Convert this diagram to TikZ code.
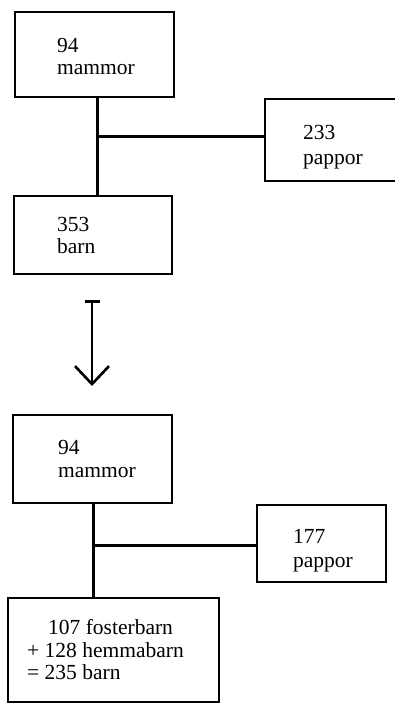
\documentclass[tikz,border=0pt]{standalone}
\usepackage{fontspec}
\setmainfont{Liberation Serif}
\usetikzlibrary{arrows.meta}
\begin{document}
\begin{tikzpicture}[x=1pt,y=-1pt,
  box/.style={draw, line width=2.3pt, rectangle, inner sep=0pt},
  txt/.style={anchor=base west, inner sep=0pt, font=\fontsize{21.5pt}{22pt}\selectfont},
  conn/.style={line width=3pt}]
\useasboundingbox (0,0) rectangle (394,704);
% top diagram
\node[box, minimum width=159pt, minimum height=85pt] (m1) at (94.5,54.5) {};
\node[box, minimum width=137pt, minimum height=82pt] (p1) at (333.5,140) {};
\node[box, minimum width=158pt, minimum height=78pt] (b1) at (93,235) {};
\node[txt] (m1a) at (57,52) {94};
\node[txt] (m1b) at (57,74) {mammor};
\node[txt] (p1a) at (303,139) {233};
\node[txt] (p1b) at (303,164) {pappor};
\node[txt] (b1a) at (57,231) {353};
\node[txt] (b1b) at (57,253) {barn};
\coordinate (j1) at (97,136);
\draw[conn] (m1.south -| j1) -- (b1.north -| j1);
\draw[conn] (j1) -- (j1 -| p1.west);
% arrow
\coordinate (a1) at (92,300);
\coordinate (a2) at (92,386);
\draw[line width=2.6pt, {Bar[width=15pt]}-{Straight Barb[length=18pt,width=34pt,line width=2.6pt]}] (a1) -- (a2);
% bottom diagram
\node[box, minimum width=159pt, minimum height=88pt] (m2) at (92.5,459) {};
\node[box, minimum width=129pt, minimum height=77pt] (p2) at (321.5,543.5) {};
\node[box, minimum width=211pt, minimum height=104pt] (b3) at (113.5,650) {};
\node[txt] (m2a) at (58,454) {94};
\node[txt] (m2b) at (58,477) {mammor};
\node[txt] (p2a) at (293,543) {177};
\node[txt] (p2b) at (293,567) {pappor};
\node[txt] (b3a) at (48,634) {107 fosterbarn};
\node[txt] (b3b) at (27,657) {+ 128 hemmabarn};
\node[txt] (b3c) at (27,679) {= 235 barn};
\coordinate (j2) at (93,545);
\draw[conn] (m2.south -| j2) -- (b3.north -| j2);
\draw[conn] (j2) -- (j2 -| p2.west);
\end{tikzpicture}
\end{document}
